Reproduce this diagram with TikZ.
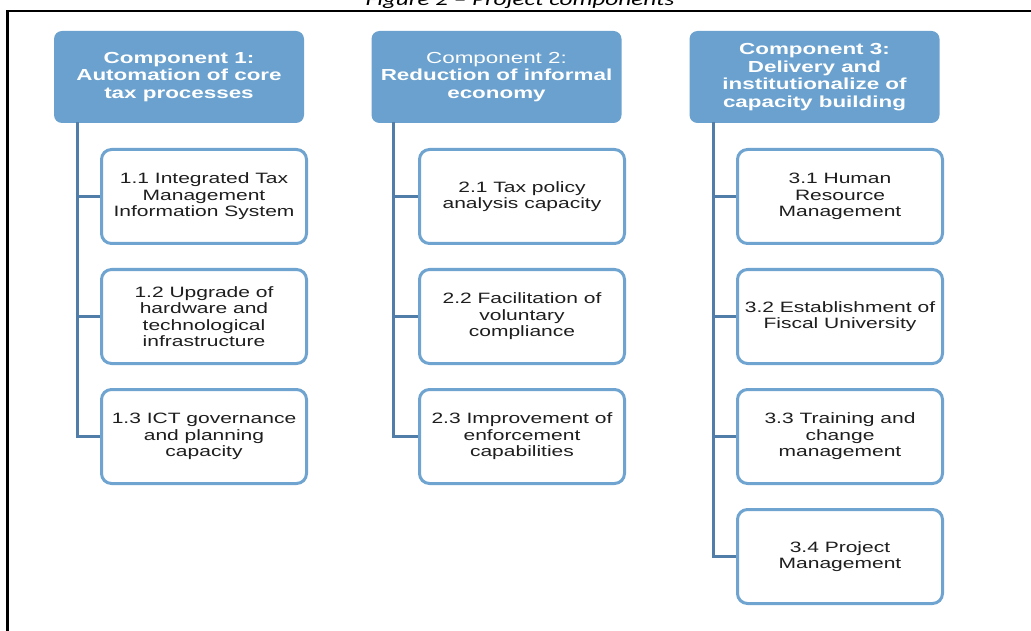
\documentclass[tikz,border=0pt]{standalone}
\usepackage{fontspec}
\setmainfont{Liberation Sans}
% widened sans face used for all labels
\newfontfamily\widesans[FakeStretch=1.4]{Liberation Sans}
\newfontfamily\widecap[FakeStretch=1.4]{Carlito}

\definecolor{hdrblue}{RGB}{106,161,206}
\definecolor{boxblue}{RGB}{112,164,208}
\definecolor{trunkblue}{RGB}{80,126,168}
\definecolor{bodytext}{RGB}{30,30,30}

\tikzset{
  header/.style={fill=hdrblue, rounded corners=8pt, minimum width=250pt,
    minimum height=92pt, inner sep=0pt, text=white, align=center,
    font=\widesans\bfseries\fontsize{16}{17.5}\selectfont},
  item/.style={draw=boxblue, line width=3pt, fill=white, rounded corners=10pt,
    minimum width=205pt, minimum height=94pt, inner sep=0pt, text=bodytext,
    align=center, font=\widesans\fontsize{15}{16.5}\selectfont},
  trunk/.style={draw=trunkblue, line width=3pt},
  frameline/.style={draw=black, line width=2.2pt}
}

\begin{document}
\begin{tikzpicture}[x=1pt,y=-1pt]
\useasboundingbox (0,0) rectangle (1031,631);

% caption, partly above the page edge
\node[anchor=base, inner sep=0pt, font=\widecap\itshape\fontsize{18}{21}\selectfont]
  (caption) at (520,6) {Figure 2 – Project components};

% surrounding frame (only top and left edges fall on the page)
\draw[frameline] (1040,10.8) -- (7.5,10.8) -- (7.5,640);

% component headers
\node[header] (h1) at (179,77) {Component 1:\\Automation of core\\tax processes};
\node[header] (h2) at (496.5,77) {\mdseries Component 2:\\Reduction of informal\\economy};
\node[header] (h3) at (814.5,77) {Component 3:\\Delivery and\\institutionalize of\\capacity building};

% sub-components
\node[item] (b11) at (204,196.5) {1.1 Integrated Tax\\Management\\Information System};
\node[item] (b12) at (204,316.5) {1.2 Upgrade of\\hardware and\\technological\\infrastructure};
\node[item] (b13) at (204,436.5) {1.3 ICT governance\\and planning\\capacity};

\node[item] (b21) at (522,196.5) {2.1 Tax policy\\analysis capacity};
\node[item] (b22) at (522,316.5) {2.2 Facilitation of\\voluntary\\compliance};
\node[item] (b23) at (522,436.5) {2.3 Improvement of\\enforcement\\capabilities};

\node[item] (b31) at (840,196.5) {3.1 Human\\Resource\\Management};
\node[item] (b32) at (840,316.5) {3.2 Establishment of\\Fiscal University};
\node[item] (b33) at (840,436.5) {3.3 Training and\\change\\management};
\node[item] (b34) at (840,556.5) {3.4 Project\\Management};

% trunk tops under each header
\coordinate (t1) at (77,122);
\coordinate (t2) at (393,122);
\coordinate (t3) at (713,122);

% tree connectors
\draw[trunk] (t1) |- (b13.west);
\draw[trunk] (b11.west) -- (t1 |- b11.west);
\draw[trunk] (b12.west) -- (t1 |- b12.west);

\draw[trunk] (t2) |- (b23.west);
\draw[trunk] (b21.west) -- (t2 |- b21.west);
\draw[trunk] (b22.west) -- (t2 |- b22.west);

\draw[trunk] (t3) |- (b34.west);
\draw[trunk] (b31.west) -- (t3 |- b31.west);
\draw[trunk] (b32.west) -- (t3 |- b32.west);
\draw[trunk] (b33.west) -- (t3 |- b33.west);
\end{tikzpicture}
\end{document}
